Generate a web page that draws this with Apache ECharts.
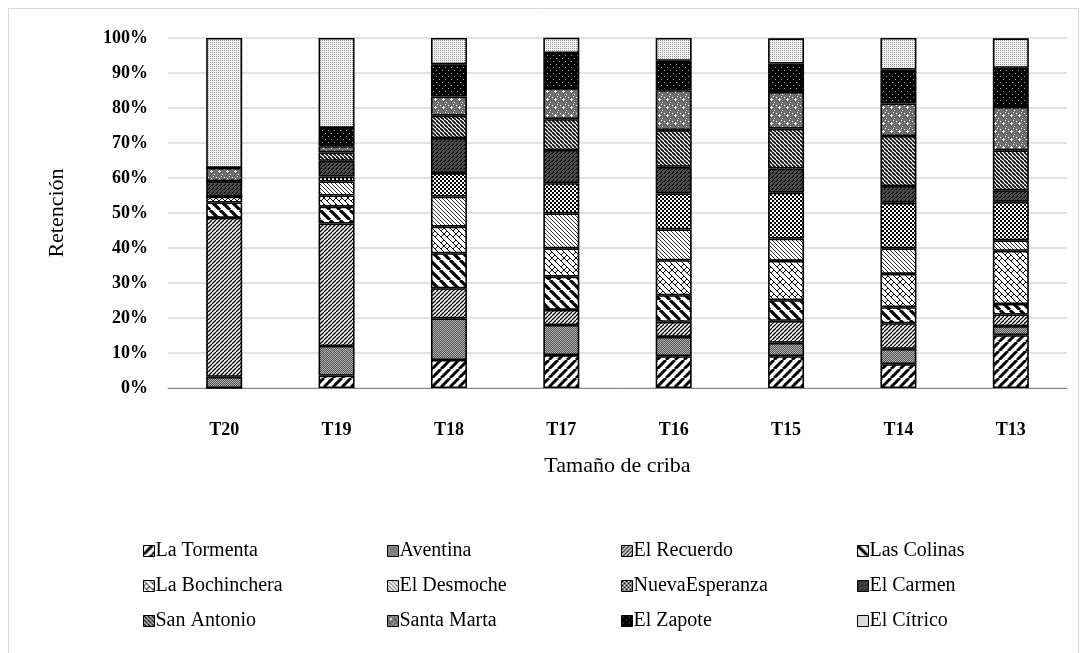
<!DOCTYPE html>
<html><head><meta charset="utf-8">
<script src="https://cdn.jsdelivr.net/npm/echarts@6/dist/echarts.min.js"></script>
<style>html,body{margin:0;padding:0;background:#fff}#c{width:1087px;height:653px}</style>
</head><body><div id="c"></div>
<script>
var categories = ['T20','T19','T18','T17','T16','T15','T14','T13'];
var seriesNames = ['La Tormenta','Aventina','El Recuerdo','Las Colinas','La Bochinchera','El Desmoche','NuevaEsperanza','El Carmen','San Antonio','Santa Marta','El Zapote','El Cítrico'];
var laTormenta     = [0,   3.5, 8.0, 9.4, 9.1, 9.1, 6.8, 15.1];
var aventina       = [3.2, 8.5, 11.9, 8.6, 5.5, 3.8, 4.4, 2.6];
var elRecuerdo     = [45.4, 35.0, 8.6, 4.3, 4.3, 6.3, 7.3, 3.3];
var lasColinas     = [4.4, 4.8, 10.0, 9.5, 7.6, 5.9, 4.6, 3.0];
var laBochinchera  = [1.7, 3.2, 7.6, 8.1, 10.0, 11.2, 9.5, 15.2];
var elDesmoche     = [0,   4.0, 8.6, 10.0, 8.8, 6.4, 7.3, 3.0];
var nuevaEsperanza = [0,   1.4, 6.7, 8.6, 10.3, 13.1, 13.0, 11.0];
var elCarmen       = [4.4, 4.5, 10.0, 9.5, 7.6, 6.9, 4.8, 3.3];
var sanAntonio     = [0,   2.4, 6.4, 8.8, 10.5, 11.4, 14.3, 11.4];
var santaMarta     = [3.8, 1.8, 5.5, 8.9, 11.4, 10.5, 9.3, 12.4];
var elZapote       = [0,   5.2, 9.2, 10.0, 8.4, 8.1, 9.7, 11.2];
var elCitrico      = [37.1, 25.7, 7.5, 4.4, 6.5, 7.2, 9.0, 8.4];
var yTicks = ['0%','10%','20%','30%','40%','50%','60%','70%','80%','90%','100%'];
var allValues = [laTormenta, aventina, elRecuerdo, lasColinas, laBochinchera, elDesmoche, nuevaEsperanza, elCarmen, sanAntonio, santaMarta, elZapote, elCitrico];

function tile(s, draw){
  var c = document.createElement('canvas'); c.width = s; c.height = s;
  var x = c.getContext('2d'); draw(x, s); return c;
}
function lines(s, w, dir, bg, fg){
  return tile(s, function(x, s){
    x.fillStyle = bg; x.fillRect(0,0,s,s);
    x.strokeStyle = fg; x.lineWidth = w; x.beginPath();
    for (var k = -1; k <= 1; k++){
      if (dir > 0){ x.moveTo(k*s, s); x.lineTo(k*s + s, 0); }
      else { x.moveTo(k*s, 0); x.lineTo(k*s + s, s); }
    }
    x.stroke();
  });
}
function dots(s, bg, fg, pts){
  return tile(s, function(x, s){
    x.fillStyle = bg; x.fillRect(0,0,s,s);
    x.fillStyle = fg;
    pts.forEach(function(p){ x.fillRect(p[0], p[1], p[2]||1, p[3]||1); });
  });
}
var patterns = [
  lines(9, 3, 1, '#fff', '#000'),
  dots(2, '#5a5a5a', '#a8a8a8', [[0,0],[1,1]]),
  lines(4, 1.3, 1, '#fff', '#000'),
  lines(10, 3.2, -1, '#fff', '#000'),
  tile(12, function(x, s){
    x.fillStyle = '#fff'; x.fillRect(0,0,s,s);
    x.strokeStyle = '#000'; x.lineWidth = 1; x.beginPath();
    x.moveTo(0,0); x.lineTo(s,s); x.moveTo(-s/2,0); x.lineTo(s/2,s); x.moveTo(s/2,0); x.lineTo(s*1.5,s);
    x.moveTo(3,9); x.lineTo(6,6); x.moveTo(9,3); x.lineTo(12,0);
    x.moveTo(9,9); x.lineTo(12,6); x.moveTo(0,6); x.lineTo(3,3);
    x.stroke();
  }),
  lines(4, 1, -1, '#fff', '#333'),
  dots(4, '#fff', '#000', [[0,0,2,2],[2,2,2,2]]),
  dots(4, '#505050', '#1a1a1a', [[0,0,2,1],[0,0,1,2],[2,2,1,1],[1,3,1,1],[3,1,1,1]]),
  lines(4, 1.6, -1, '#fff', '#000'),
  dots(8, '#6e6e6e', '#fff', [[3,2,1,3],[2,3,3,1],[0,1,1,1],[6,6,1,1],[5,0,1,1]]),
  dots(6, '#000', '#aaa', [[1,1,1,1],[4,4,1,1]]),
  dots(2, '#f2f2f2', '#9c9c9c', [[0,0]])
];

var chart = echarts.init(document.getElementById('c'));
var series = seriesNames.map(function(n, i){
  return {
    name: n, type: 'bar', stack: 'total', barWidth: 36,
    data: allValues[i],
    itemStyle: { color: { image: patterns[i], repeat: 'repeat' }, borderColor: '#000', borderWidth: 1.6 },
    emphasis: { disabled: true }
  };
});
var colX = [143, 387, 621, 857];
var rowY = [541, 576, 611];
var legends = seriesNames.map(function(n, i){
  return {
    data: [n], left: colX[i % 4], top: rowY[Math.floor(i / 4)],
    itemWidth: 11, itemHeight: 11, icon: 'rect', padding: 0, selectedMode: false,
    itemStyle: { borderColor: '#000', borderWidth: 1 },
    textStyle: { fontFamily: 'Liberation Serif', fontSize: 20, color: '#000', padding: [0,0,0,-4] }
  };
});
chart.setOption({
  animation: false,
  backgroundColor: '#fff',
  graphic: [{ type: 'rect', shape: { x: 8.5, y: 8.5, width: 1070, height: 700 }, style: { fill: 'none', stroke: '#d9d9d9', lineWidth: 1 }, silent: true }],
  legend: legends,
  grid: { left: 168, right: 20, top: 38, bottom: 265 },
  xAxis: {
    type: 'category', data: categories,
    name: 'Tamaño de criba', nameLocation: 'middle', nameGap: 67,
    nameTextStyle: { fontFamily: 'Liberation Serif', fontSize: 22, color: '#000' },
    axisLine: { lineStyle: { color: '#868686', width: 1 } },
    axisTick: { show: false },
    axisLabel: { margin: 33, fontFamily: 'Liberation Serif', fontWeight: 'bold', fontSize: 18, color: '#000' }
  },
  yAxis: {
    type: 'value', min: 0, max: 100, interval: 10,
    name: 'Retención', nameLocation: 'middle', nameGap: 100,
    nameTextStyle: { fontFamily: 'Liberation Serif', fontSize: 22, color: '#000' },
    axisLine: { show: false }, axisTick: { show: false },
    splitLine: { lineStyle: { color: '#d9d9d9', width: 1.5 } },
    axisLabel: { margin: 20, fontFamily: 'Liberation Serif', fontWeight: 'bold', fontSize: 18, color: '#000',
      formatter: function(v){ return yTicks[Math.round(v / 10)]; } }
  },
  series: series
});
</script></body></html>
